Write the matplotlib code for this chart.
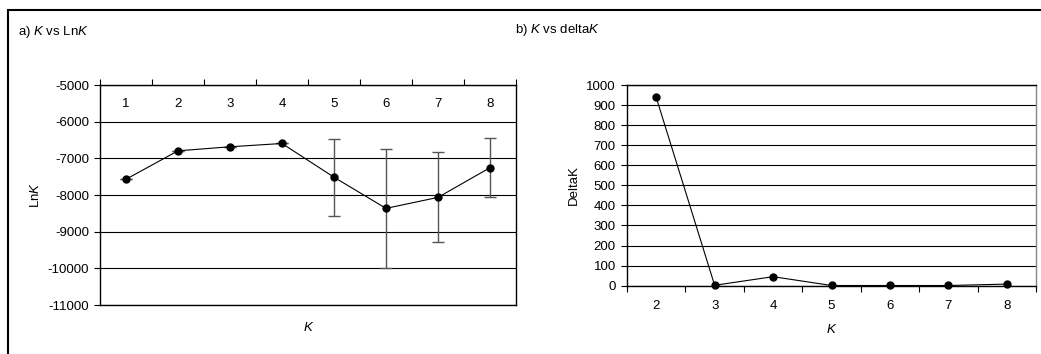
import matplotlib.pyplot as plt
import matplotlib.patches as patches

plt.rcParams['font.family'] = ['Liberation Sans', 'DejaVu Sans']
plt.rcParams['font.size'] = 9.5
plt.rcParams['axes.unicode_minus'] = False
plt.rcParams['mathtext.fontset'] = 'custom'
plt.rcParams['mathtext.rm'] = 'Liberation Sans'
plt.rcParams['mathtext.it'] = 'Liberation Sans:italic'

# a) K vs LnK
k_ln = [1, 2, 3, 4, 5, 6, 7, 8]
ln_k = [-7570, -6795, -6685, -6595, -7515, -8365, -8065, -7255]
ln_err = [0, 0, 0, 0, 1055, 1620, 1230, 810]
ln_ticks = [-11000, -10000, -9000, -8000, -7000, -6000, -5000]

# b) K vs deltaK
k_delta = [2, 3, 4, 5, 6, 7, 8]
delta_k = [938, 2, 45, 1, 1, 1, 8]
delta_ticks = list(range(0, 1001, 100))

W, H = 1041, 354
fig = plt.figure(figsize=(W / 100, H / 100), dpi=100)

# outer frame (clipped on right and bottom)
fig.patches.append(patches.Rectangle((8 / W, -0.2), 2.0, 1.2 - 10 / H,
                                     transform=fig.transFigure, fill=False,
                                     edgecolor='black', linewidth=1.5))

fig.text(18 / W, 1 - 32 / H, "a) $K$ vs Ln$K$", va='center', ha='left', fontsize=9.5)
fig.text(515 / W, 1 - 30 / H, "b) $K$ vs delta$K$", va='center', ha='left', fontsize=9.5)

# ---- left panel ----
ax1 = fig.add_axes([100 / W, 1 - 305 / H, 416 / W, 220 / H])
ax1.errorbar(k_ln, ln_k, yerr=ln_err, fmt='none', ecolor='#555555',
             elinewidth=1.0, capsize=4, capthick=1.0, zorder=2)
ax1.plot(k_ln, ln_k, color='black', lw=0.8, marker='o', ms=5, zorder=3)
ax1.set_xlim(0.5, 8.5)
ax1.set_ylim(-11000, -5000)
ax1.set_yticks(ln_ticks)
ax1.yaxis.grid(True, color='black', lw=0.8)
ax1.set_axisbelow(True)
ax1.xaxis.set_ticks_position('top')
ax1.set_xticks([x + 0.5 for x in range(0, 9)])
ax1.set_xticklabels([])
ax1.set_xticks(k_ln, minor=True)
ax1.set_xticklabels([str(k) for k in k_ln], minor=True)
ax1.tick_params(axis='x', which='major', direction='out', length=4, top=True, bottom=False)
ax1.tick_params(axis='x', which='minor', length=0, pad=-18, top=True, bottom=False,
                labeltop=True, labelbottom=False)
ax1.tick_params(axis='y', direction='out', length=4, pad=4)
for s in ax1.spines.values():
    s.set_linewidth(1.0)
ax1.set_ylabel("Ln$K$")
ax1.yaxis.set_label_coords(-0.139, 0.5)
ax1.set_xlabel("K", style='italic')
ax1.xaxis.set_label_position('bottom')
ax1.xaxis.set_label_coords(0.5, -0.077)

# ---- right panel ----
ax2 = fig.add_axes([627 / W, 1 - 285.7 / H, 409 / W, 200.7 / H])
ax2.plot(k_delta, delta_k, color='black', lw=0.8, marker='o', ms=5, clip_on=False, zorder=3)
ax2.set_xlim(1.5, 8.5)
ax2.set_ylim(0, 1000)
ax2.set_yticks(delta_ticks)
ax2.yaxis.grid(True, color='black', lw=0.8)
ax2.set_axisbelow(True)
ax2.set_xticks([x + 0.5 for x in range(1, 9)])
ax2.set_xticklabels([])
ax2.set_xticks(k_delta, minor=True)
ax2.set_xticklabels([str(k) for k in k_delta], minor=True)
ax2.tick_params(axis='x', which='major', direction='out', length=4)
ax2.tick_params(axis='x', which='minor', length=0, pad=10)
ax2.tick_params(axis='y', direction='out', length=4, pad=4)
ax2.spines['right'].set_color('#888888')
ax2.spines['top'].set_color('black')
for s in ax2.spines.values():
    s.set_linewidth(1.0)
ax2.set_ylabel("DeltaK")
ax2.yaxis.set_label_coords(-0.115, 0.5)
ax2.set_xlabel("K", style='italic')
ax2.xaxis.set_label_coords(0.5, -0.19)

fig.savefig("out.png", dpi=100)
